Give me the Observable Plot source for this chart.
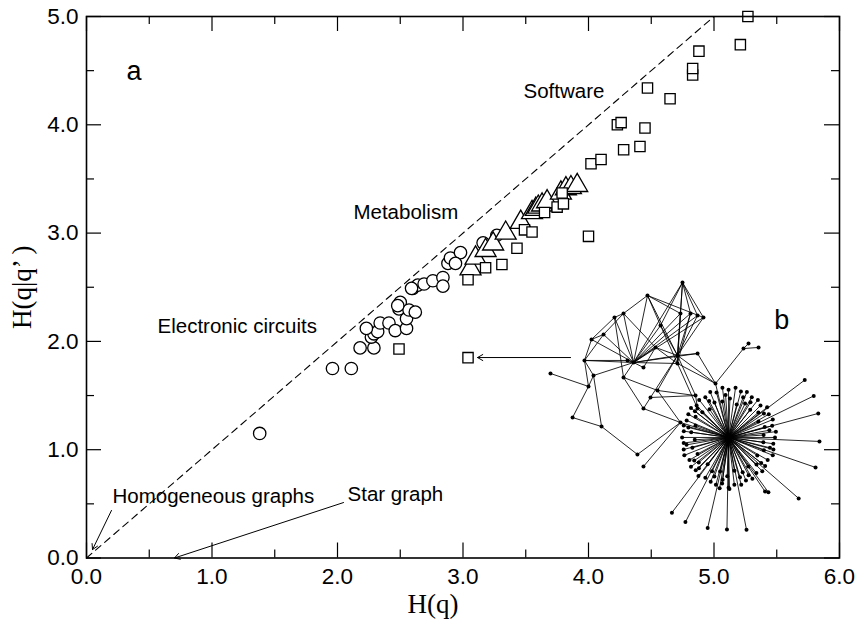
<!DOCTYPE html>
<html><head><meta charset="utf-8">
<script src="https://cdn.jsdelivr.net/npm/d3@7"></script>
<script src="https://cdn.jsdelivr.net/npm/@observablehq/plot@0.6"></script>
<style>body{margin:0;background:#fff}</style>
</head><body><div id="chart"></div>
<script>
// ---- Data ----
const circuitsX = [1.38,1.96,2.11,2.18,2.29,2.27,2.29,2.32,2.23,2.34,2.41,2.46,2.55,2.55,2.49,2.50,2.57,2.62,2.48,2.60,2.64,2.59,2.69,2.76,2.84,2.84,2.88,2.90,2.98,2.94,3.16,3.27];
const circuitsY = [1.15,1.75,1.75,1.94,1.94,2.04,2.07,2.09,2.12,2.17,2.17,2.10,2.12,2.21,2.30,2.36,2.29,2.27,2.33,2.49,2.52,2.49,2.53,2.56,2.59,2.51,2.72,2.77,2.82,2.72,2.91,2.98];
const metabolismX = [3.06,3.10,3.18,3.24,3.34,3.46,3.55,3.58,3.60,3.63,3.67,3.78,3.82,3.86,3.91];
const metabolismY = [2.67,2.77,2.84,2.90,3.00,3.10,3.19,3.22,3.24,3.26,3.29,3.37,3.41,3.42,3.44];
const softwareX = [2.49,3.04,3.04,3.18,3.31,3.43,3.49,3.55,3.65,3.75,3.80,3.79,4.00,4.02,4.10,4.28,4.41,4.23,4.26,4.45,4.47,4.65,4.83,4.83,4.88,5.21,5.27];
const softwareY = [1.93,1.85,2.57,2.68,2.71,2.86,3.03,3.01,3.19,3.24,3.27,3.37,2.97,3.64,3.68,3.77,3.80,4.00,4.02,3.97,4.34,4.24,4.46,4.52,4.68,4.74,5.00];

const xTicks = [0,1,2,3,4,5,6];
const xMinor = [0.5,1.5,2.5,3.5,4.5,5.5];
const yTicks = [0,1,2,3,4,5];
const yMinor = [0.5,1.5,2.5,3.5,4.5];

const diagonalX = [0,5];
const diagonalY = [0,5];

const labelText = ["Software","Metabolism","Electronic circuits","Homogeneous graphs","Star graph"];
const labelX = [3.482,2.127,0.566,0.207,2.08];
const labelY = [4.31,3.19,2.14,0.568,0.586];

const arrowX1 = [0.199,2.048,3.857];
const arrowY1 = [0.439,0.512,1.851];
const arrowX2 = [0.048,0.701,3.116];
const arrowY2 = [0.078,0.0,1.851];

// inset network (b), in H(q), H(q|q') units
const netId = ["A","B","C","D","E","F","G","H","I","J","K","L","M","N","O","P","Q","R","S","T","U","V","W","X","Y","Z","AA","AB","AC","AD","AE","AF","AG","AH","AI","AJ","AK","HUB"];
const netX = [4.749,4.470,4.279,4.207,4.120,4.024,3.968,4.040,4.000,3.873,4.104,4.390,4.438,4.359,4.709,4.709,4.916,4.869,4.813,4.733,4.574,4.534,4.869,4.279,4.550,4.494,4.438,4.853,4.869,5.012,5.235,5.275,5.355,4.733,4.311,4.438,3.697,5.116];
const netY = [2.544,2.424,2.258,2.221,2.064,2.018,1.824,1.685,1.584,1.297,1.214,0.956,0.845,1.805,1.870,1.796,2.221,2.239,2.258,2.258,2.147,1.944,1.888,1.667,1.547,1.482,1.380,1.500,1.380,1.611,1.934,1.980,1.944,1.251,1.824,1.759,1.704,1.113];
const edgeFrom = ["N","N","N","N","N","N","N","N","N","N","N","N","N","N","N","N","N","N","N","N",
  "O","O","O","O","O","O","O","O","O","O","O","O","O","O",
  "A","A","A","A","A","B","B","B","B","C","C","C","D","D","E","E","F","G","G","H","H","I","I","J","K","L","M",
  "X","X","Y","Y","Z","Z","AA","AB","AC","AC","AD","AD","AD","AD","AE","AE","AH","AI","AJ","V","U","T","S"];
const edgeTo = ["B","C","D","E","F","G","AI","AJ","U","V","T","S","R","Q","O","P","W","A","X","H",
  "A","B","U","V","T","S","R","Q","W","P","AB","AD","Z","Y",
  "Q","T","S","R","U","U","T","Q","C","D","E","V","F","X","F","G","G","H","I","I","K","J","AK","K","L","AH","AH",
  "Y","AA","AB","AH","AA","AB","AH","AC","P","HUB","P","AE","HUB","W","AF","AG","HUB","G","V","P","P","P","P"];
// star leaves around HUB: direction (degrees) and distance (H(q) units)
const leafAngle = [0,7,15,22,30,38,45,52,60,68,75,82,90,97,105,112,120,128,135,142,150,158,165,172,180,187,195,202,210,218,225,232,240,248,255,262,270,277,285,292,300,308,315,322,330,338,345,352,
  4,16,28,40,52,64,76,88,100,112,124,136,148,160,172,184,196,208,220,232,244,256,268,280,292,304,316,328,340,352,
  10,34,58,70,94,118,142,166,190,214,226,250,262,286,298,322,346,
  37,26,15,-2.5,-19,-41,-54,-56,-79,-91,-103,-117,-127,-100,-89];
const leafDist = [0.37,0.38,0.36,0.38,0.37,0.39,0.36,0.38,0.37,0.39,0.38,0.40,0.38,0.40,0.37,0.39,0.37,0.38,0.36,0.38,0.37,0.36,0.37,0.36,0.37,0.36,0.37,0.38,0.36,0.38,0.37,0.39,0.37,0.38,0.39,0.37,0.40,0.38,0.39,0.37,0.38,0.36,0.38,0.37,0.36,0.38,0.37,0.36,
  0.28,0.30,0.27,0.31,0.28,0.30,0.27,0.31,0.29,0.30,0.27,0.29,0.31,0.28,0.30,0.27,0.30,0.28,0.31,0.27,0.30,0.28,0.31,0.27,0.30,0.28,0.31,0.27,0.30,0.28,
  0.33,0.34,0.33,0.34,0.34,0.33,0.34,0.33,0.34,0.33,0.34,0.33,0.34,0.33,0.34,0.33,0.34,
  0.76,0.755,0.74,0.725,0.733,0.74,0.54,0.52,0.75,0.733,0.74,0.757,0.75,0.41,0.41];

// ---- Layout ----
const W = 860, H = 626, mL = 86, mR = 21, mT = 16, mB = 68.5;
const kx = (W - mL - mR) / 6;   // px per x unit
const ky = (H - mT - mB) / 5;   // px per y unit
const majX = 15 / kx, majY = 15 / ky, minX = 8 / kx, minY = 8 / ky;

const circuits = circuitsX.map((x, i) => ({x, y: circuitsY[i]}));
const metabolism = metabolismX.map((x, i) => ({x, y: metabolismY[i]}));
const software = softwareX.map((x, i) => ({x, y: softwareY[i]}));
const labels = labelText.map((t, i) => ({t, x: labelX[i], y: labelY[i]}));
const arrows = arrowX1.map((x1, i) => ({x1, y1: arrowY1[i], x2: arrowX2[i], y2: arrowY2[i]}));

const nodes = new Map(netId.map((id, i) => [id, {x: netX[i], y: netY[i]}]));
const hub = nodes.get("HUB");
const leaves = leafAngle.map((a, i) => ({
  x: hub.x + leafDist[i] * Math.cos(a * Math.PI / 180),
  y: hub.y + leafDist[i] * Math.sin(a * Math.PI / 180) * kx / ky
}));
const edges = edgeFrom.map((f, i) => ({a: nodes.get(f), b: nodes.get(edgeTo[i])}))
  .concat(leaves.map(l => ({a: hub, b: l})));
const netNodes = [...nodes.values()].concat(leaves);

const sans = "Liberation Sans, Arial, Helvetica, sans-serif";
const serif = "Liberation Serif, Times New Roman, serif";

const chart = Plot.plot({
  width: W, height: H,
  marginLeft: mL, marginRight: mR, marginTop: mT, marginBottom: mB,
  x: {domain: [0, 6], axis: null},
  y: {domain: [0, 5], axis: null},
  style: {fontFamily: sans, background: "#fff", color: "#000"},
  marks: [
    // inset network
    Plot.link(edges, {x1: d => d.a.x, y1: d => d.a.y, x2: d => d.b.x, y2: d => d.b.y, stroke: "#000", strokeWidth: 0.85}),
    Plot.dot(netNodes, {x: "x", y: "y", r: 2, fill: "#000"}),
    // diagonal
    Plot.line(diagonalX.map((x, i) => ({x, y: diagonalY[i]})), {x: "x", y: "y", stroke: "#000", strokeWidth: 1.1, strokeDasharray: "7,5"}),
    // data
    Plot.dot(circuits, {x: "x", y: "y", r: 6.2, symbol: "circle", fill: "#fff", stroke: "#000", strokeWidth: 1.3}),
    Plot.dot(metabolism, {x: "x", y: "y", r: 7.8, symbol: "triangle", fill: "#fff", stroke: "#000", strokeWidth: 1.3}),
    Plot.dot(software, {x: "x", y: "y", r: 5.8, symbol: "square", fill: "#fff", stroke: "#000", strokeWidth: 1.3}),
    // arrows
    Plot.arrow(arrows, {x1: "x1", y1: "y1", x2: "x2", y2: "y2", stroke: "#000", strokeWidth: 1, headLength: 9}),
    // labels
    Plot.text(labels, {x: "x", y: "y", text: "t", textAnchor: "start", fontSize: 20.5, fontFamily: sans, fill: "#000"}),
    Plot.text(["a"], {x: 0.319, y: 4.49, textAnchor: "start", fontSize: 27, fontFamily: sans, fill: "#000"}),
    Plot.text(["b"], {x: 5.48, y: 2.19, textAnchor: "start", fontSize: 27, fontFamily: sans, fill: "#000"}),
    // ticks (inward, all sides)
    Plot.ruleX(xTicks, {x: d => d, y1: 0, y2: majY, stroke: "#000", strokeWidth: 1.2}),
    Plot.ruleX(xMinor, {x: d => d, y1: 0, y2: minY, stroke: "#000", strokeWidth: 1.2}),
    Plot.ruleX(xTicks, {x: d => d, y1: 5, y2: 5 - majY, stroke: "#000", strokeWidth: 1.2}),
    Plot.ruleX(xMinor, {x: d => d, y1: 5, y2: 5 - minY, stroke: "#000", strokeWidth: 1.2}),
    Plot.ruleY(yTicks, {y: d => d, x1: 0, x2: majX, stroke: "#000", strokeWidth: 1.2}),
    Plot.ruleY(yMinor, {y: d => d, x1: 0, x2: minX, stroke: "#000", strokeWidth: 1.2}),
    Plot.ruleY(yTicks, {y: d => d, x1: 6, x2: 6 - majX, stroke: "#000", strokeWidth: 1.2}),
    Plot.ruleY(yMinor, {y: d => d, x1: 6, x2: 6 - minX, stroke: "#000", strokeWidth: 1.2}),
    Plot.frame({stroke: "#000", strokeWidth: 1.6}),
    // tick labels
    Plot.text(xTicks, {x: d => d, y: 0, text: d3.format(".1f"), dy: 19, fontSize: 22.5, fontFamily: sans, fill: "#000"}),
    Plot.text(yTicks, {x: 0, y: d => d, text: d3.format(".1f"), dx: -8, textAnchor: "end", fontSize: 22.5, fontFamily: sans, fill: "#000"}),
    // axis titles
    Plot.text(["H(q)"], {x: 2.76, y: 0, dy: 46, fontSize: 27, fontFamily: serif, fill: "#000"}),
    Plot.text(["H(q|q’ )"], {x: 0, y: 2.5, dx: -64, rotate: -90, fontSize: 27, fontFamily: serif, fill: "#000"})
  ]
});
document.getElementById("chart").appendChild(chart);
</script>
</body></html>
